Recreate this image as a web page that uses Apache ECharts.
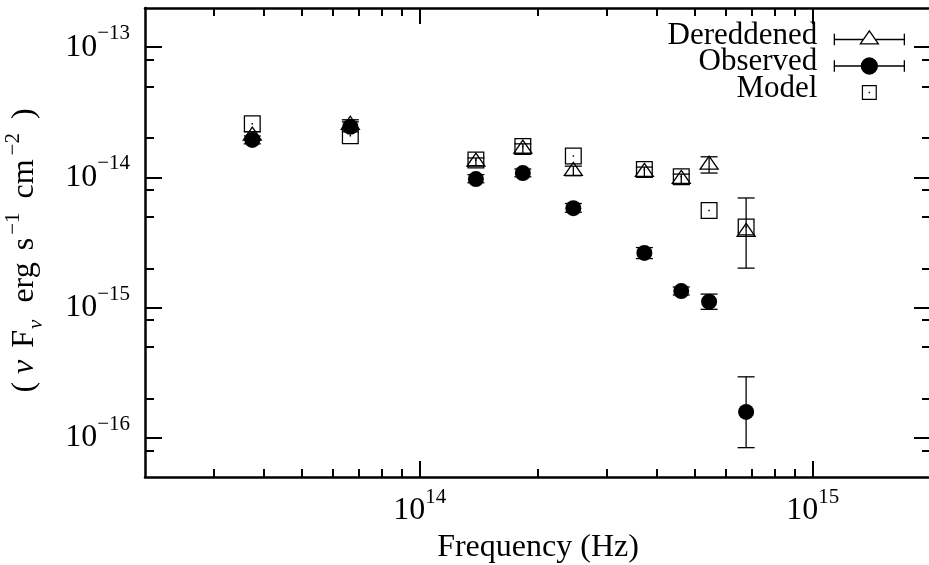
<!DOCTYPE html>
<html><head><meta charset="utf-8">
<script src="https://cdn.jsdelivr.net/npm/echarts@6/dist/echarts.min.js"></script>
<style>html,body{margin:0;padding:0;background:#fff}#c{width:929px;height:565px}</style>
</head><body><div id="c"></div>
<script>
const FONT = 'Liberation Serif';

// ---- data ----
const frequency   = [3.75e13, 6.66e13, 1.39e14, 1.83e14, 2.46e14, 3.73e14, 4.63e14, 5.45e14, 6.77e14];
const dereddened  = [2.09e-14, 2.53e-14, 1.32e-14, 1.66e-14, 1.12e-14, 1.10e-14, 9.7e-15, 1.25e-14, 3.8e-15];
const deredLow    = [1.94e-14, 2.32e-14, 1.23e-14, 1.52e-14, 1.03e-14, 1.01e-14, 8.9e-15, 1.08e-14, 2.01e-15];
const deredHigh   = [2.24e-14, 2.77e-14, 1.41e-14, 1.81e-14, 1.22e-14, 1.20e-14, 1.06e-14, 1.44e-14, 6.95e-15];
const observed    = [1.94e-14, 2.45e-14, 9.7e-15, 1.08e-14, 5.8e-15, 2.63e-15, 1.34e-15, 1.11e-15, 1.58e-16];
const obsLow      = [1.81e-14, 2.24e-14, 9.1e-15, 1.01e-14, 5.4e-15, 2.38e-15, 1.25e-15, 0.97e-15, 8.4e-17];
const obsHigh     = [2.08e-14, 2.67e-14, 1.05e-14, 1.16e-14, 6.3e-15, 2.89e-15, 1.44e-15, 1.27e-15, 2.94e-16];
const model       = [2.58e-14, 2.09e-14, 1.36e-14, 1.73e-14, 1.46e-14, 1.15e-14, 1.01e-14, 5.57e-15, 4.16e-15];

const xRange  = [2e13, 2e15];
const yRange  = [5e-17, 2e-13];
const xMajor  = [1e14, 1e15];
const xMinor  = [3e13, 4e13, 5e13, 6e13, 7e13, 8e13, 9e13, 2e14, 3e14, 4e14, 5e14, 6e14, 7e14, 8e14, 9e14];
const yMajor  = [1e-16, 1e-15, 1e-14, 1e-13];
const yMinor  = [8e-17, 2e-16, 5e-16, 8e-16, 2e-15, 5e-15, 8e-15, 2e-14, 5e-14, 8e-14];

// ---- helpers ----
function expLabel(v) {
  const e = Math.round(Math.log10(v));
  return '{b|10}{s|' + (e < 0 ? '\u2212' : '') + Math.abs(e) + '}';
}
const tickRich = {
  b: { fontFamily: FONT, fontSize: 32, lineHeight: 48, verticalAlign: 'middle', color: '#000' },
  s: { fontFamily: FONT, fontSize: 21, lineHeight: 21, verticalAlign: 'top', color: '#000' }
};
const black = '#000';

function axis(kind, position, range, ticks, len, showLine, labels, extra) {
  const a = {
    type: 'log', logBase: 10, min: range[0], max: range[1], position: position,
    axisLine: { show: showLine, onZero: false, lineStyle: { color: black, width: 2.5 } },
    axisTick: { show: true, inside: true, length: len, customValues: ticks, lineStyle: { color: black, width: 2 } },
    axisLabel: labels ? { show: true, customValues: ticks, formatter: expLabel, rich: tickRich, margin: kind === 'x' ? 10 : 15 } : { show: false },
    splitLine: { show: false }, minorTick: { show: false }, minorSplitLine: { show: false },
    silent: true
  };
  return Object.assign(a, extra || {});
}

function zip(xs, ys) { return xs.map((x, i) => [x, ys[i]]); }
function zipErr(xs, ys, lo, hi) { return xs.map((x, i) => [x, ys[i], lo[i], hi[i]]); }

function errRender(params, api) {
  const x = api.value(0);
  const lo = api.coord([x, api.value(2)]);
  const hi = api.coord([x, api.value(3)]);
  const w = 8.5;
  const style = { stroke: black, lineWidth: 1.3, fill: null };
  return {
    type: 'group', children: [
      { type: 'line', shape: { x1: lo[0], y1: lo[1], x2: hi[0], y2: hi[1] }, style: style },
      { type: 'line', shape: { x1: lo[0] - w, y1: lo[1], x2: lo[0] + w, y2: lo[1] }, style: style },
      { type: 'line', shape: { x1: hi[0] - w, y1: hi[1], x2: hi[0] + w, y2: hi[1] }, style: style }
    ]
  };
}

const squareSym   = 'path://M0,0L16,0L16,16L0,16ZM1.2,1.2L1.2,14.8L14.8,14.8L14.8,1.2ZM7.3,7.3L8.7,7.3L8.7,8.7L7.3,8.7Z';
const triangleSym = 'path://M9,0L18,13L0,13ZM9,17.33L9,17.33';

// legend icons: 70 x 26 box, symbol drawn centred on y = 17 (text sits a little higher)
const legDeredIcon = 'path://M0,0L0,0M70,26L70,26M0,17L29,17M41,17L70,17M0,11.3L0,22.7M70,11.3L70,22.7M35,8.33L44,21.33L26,21.33Z';
const legObsIcon   = 'path://M0,0L0,0M70,26L70,26M0,17L70,17M0,11.3L0,22.7M70,11.3L70,22.7M43,17A8,8 0 1 1 27,17A8,8 0 1 1 43,17Z';
const legModelIcon = 'path://M0,0L0,0M70,26L70,26M27.5,9.5L42.5,9.5L42.5,24.5L27.5,24.5ZM28.7,10.7L28.7,23.3L41.3,23.3L41.3,10.7ZM34.3,16.3L35.7,16.3L35.7,17.7L34.3,17.7Z';

const yName = '{p|(}{nu|\u03bd}{F|F}{sub|\u03bd}{w|erg}{s|s}{sup|\u22121}{cm|cm}{sup2|\u22122}{q|)}';
const base = { fontFamily: FONT, fontSize: 32, color: black, verticalAlign: 'middle' };
const yNameRich = {
  p:   Object.assign({}, base, { lineHeight: 44 }),
  nu:  Object.assign({}, base, { fontStyle: 'italic', padding: [0, 0, 0, 8] }),
  F:   Object.assign({}, base, { padding: [0, 0, 0, 12] }),
  sub: { fontFamily: FONT, fontSize: 21, color: black, fontStyle: 'italic', lineHeight: 31, verticalAlign: 'bottom', padding: [0, 0, 0, 1] },
  w:   Object.assign({}, base, { padding: [0, 0, 0, 17] }),
  s:   Object.assign({}, base, { padding: [0, 0, 0, 12] }),
  sup: { fontFamily: FONT, fontSize: 21, color: black, lineHeight: 21, verticalAlign: 'top', padding: [0, 0, 0, 3] },
  cm:  Object.assign({}, base, { padding: [0, 0, 0, 14] }),
  sup2:{ fontFamily: FONT, fontSize: 21, color: black, lineHeight: 21, verticalAlign: 'top', padding: [0, 0, 0, 4] },
  q:   Object.assign({}, base, { padding: [0, 16, 0, 14] })
};

const chart = echarts.init(document.getElementById('c'), null, { renderer: 'canvas' });
chart.setOption({
  animation: false,
  backgroundColor: '#fff',
  grid: { left: 145, top: 8, width: 786, height: 469, containLabel: false, outerBoundsMode: 'none' },
  legend: {
    orient: 'vertical', right: 24, top: 20, padding: 0,
    itemWidth: 70, itemHeight: 26, itemGap: -4.5, align: 'right', selectedMode: false,
    textStyle: { fontFamily: FONT, fontSize: 31, color: black, padding: [0, 12, 0, 0] },
    data: [
      { name: 'Dereddened', icon: legDeredIcon, itemStyle: { color: 'rgba(0,0,0,0)', borderColor: black, borderWidth: 1.3, opacity: 1 } },
      { name: 'Observed', icon: legObsIcon, itemStyle: { color: black, borderColor: black, borderWidth: 1.3, opacity: 1 } },
      { name: 'Model', icon: legModelIcon, itemStyle: { color: black, borderWidth: 0, opacity: 1 } }
    ]
  },
  xAxis: [
    axis('x', 'bottom', xRange, xMajor, 16, true, true, {
      name: 'Frequency (Hz)', nameLocation: 'middle', nameGap: 50,
      nameTextStyle: { fontFamily: FONT, fontSize: 32, color: black, lineHeight: 31 }
    }),
    axis('x', 'bottom', xRange, xMinor, 8, false, false),
    axis('x', 'top', xRange, xMajor, 16, true, false),
    axis('x', 'top', xRange, xMinor, 8, false, false)
  ],
  yAxis: [
    axis('y', 'left', yRange, yMajor, 17, true, true, {
      name: yName, nameLocation: 'middle', nameRotate: 90, nameGap: 98,
      nameTextStyle: { fontFamily: FONT, fontSize: 32, color: black, rich: yNameRich }
    }),
    axis('y', 'left', yRange, yMinor, 9, false, false),
    axis('y', 'right', yRange, yMajor, 17, true, false),
    axis('y', 'right', yRange, yMinor, 9, false, false)
  ],
  series: [
    { name: 'Model', type: 'scatter', xAxisIndex: 0, yAxisIndex: 0, z: 2, silent: true,
      symbol: squareSym, symbolSize: 17, itemStyle: { color: black, borderWidth: 0, opacity: 1 },
      data: zip(frequency, model) },
    { name: 'DereddenedErr', type: 'custom', xAxisIndex: 0, yAxisIndex: 0, z: 3, silent: true,
      renderItem: errRender, encode: { x: 0, y: [1, 2, 3] },
      data: zipErr(frequency, dereddened, deredLow, deredHigh) },
    { name: 'Dereddened', type: 'scatter', xAxisIndex: 0, yAxisIndex: 0, z: 4, silent: true,
      symbol: triangleSym, symbolSize: [18, 17.33],
      itemStyle: { color: 'rgba(0,0,0,0)', borderColor: black, borderWidth: 1.3, opacity: 1 },
      data: zip(frequency, dereddened) },
    { name: 'ObservedErr', type: 'custom', xAxisIndex: 0, yAxisIndex: 0, z: 5, silent: true,
      renderItem: errRender, encode: { x: 0, y: [1, 2, 3] },
      data: zipErr(frequency, observed, obsLow, obsHigh) },
    { name: 'Observed', type: 'scatter', xAxisIndex: 0, yAxisIndex: 0, z: 6, silent: true,
      symbol: 'circle', symbolSize: 16, itemStyle: { color: black, opacity: 1 },
      data: zip(frequency, observed) }
  ]
});
</script></body></html>
